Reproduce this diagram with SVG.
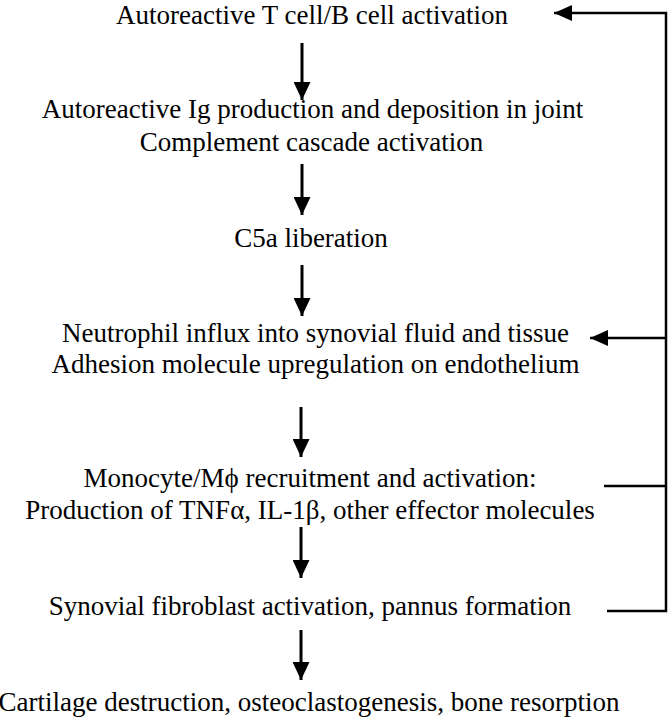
<svg xmlns="http://www.w3.org/2000/svg" width="668" height="719" viewBox="0 0 668 719">
<defs>
<style>
text{font-family:"Liberation Serif","Times New Roman",serif;font-size:27px;fill:#000;text-anchor:middle}
.c{stroke:#000;stroke-width:2.5;fill:none}
.d{stroke:#000;stroke-width:3;fill:none}
</style>
<marker id="ahd" viewBox="0 0 18 17" refX="18" refY="8.5" markerWidth="18" markerHeight="17" orient="auto" markerUnits="userSpaceOnUse">
<path d="M0,0 L18,8.5 L0,17 Z" fill="#000"/>
</marker>
<marker id="ahf" viewBox="0 0 18 16" refX="18" refY="8" markerWidth="18" markerHeight="16" orient="auto" markerUnits="userSpaceOnUse">
<path d="M0,0 L18,8 L0,16 Z" fill="#000"/>
</marker>
</defs>
<rect width="668" height="719" fill="#fff"/>
<g id="n1"><text x="312" y="24">Autoreactive T cell/B cell activation</text></g>
<g id="n2"><text x="312.5" y="118">Autoreactive Ig production and deposition in joint</text><text x="311.5" y="151">Complement cascade activation</text></g>
<g id="n3"><text x="311" y="247">C5a liberation</text></g>
<g id="n4"><text x="315.5" y="342">Neutrophil influx into synovial fluid and tissue</text><text x="315.5" y="373">Adhesion molecule upregulation on endothelium</text></g>
<g id="n5"><text x="310" y="487">Monocyte/Mϕ recruitment and activation:</text><text x="310" y="519">Production of TNFα, IL-1β, other effector molecules</text></g>
<g id="n6"><text x="310" y="615">Synovial fibroblast activation, pannus formation</text></g>
<g id="n7"><text x="309" y="711">Cartilage destruction, osteoclastogenesis, bone resorption</text></g>
<g id="connectors">
<line class="d" x1="302" y1="43" x2="302" y2="100" marker-end="url(#ahd)"/>
<line class="d" x1="302" y1="164" x2="302" y2="215" marker-end="url(#ahd)"/>
<line class="d" x1="302" y1="265" x2="302" y2="316" marker-end="url(#ahd)"/>
<line class="d" x1="301" y1="407" x2="301" y2="457" marker-end="url(#ahd)"/>
<line class="d" x1="301" y1="527" x2="301" y2="578" marker-end="url(#ahd)"/>
<line class="d" x1="301" y1="630" x2="301" y2="680" marker-end="url(#ahd)"/>
<polyline class="c" points="604,486 666,486"/>
<polyline class="c" points="607,611 666,611 666,13 554,13" marker-end="url(#ahf)"/>
<line class="c" x1="666" y1="338" x2="590" y2="338" marker-end="url(#ahf)"/>
</g>
</svg>
